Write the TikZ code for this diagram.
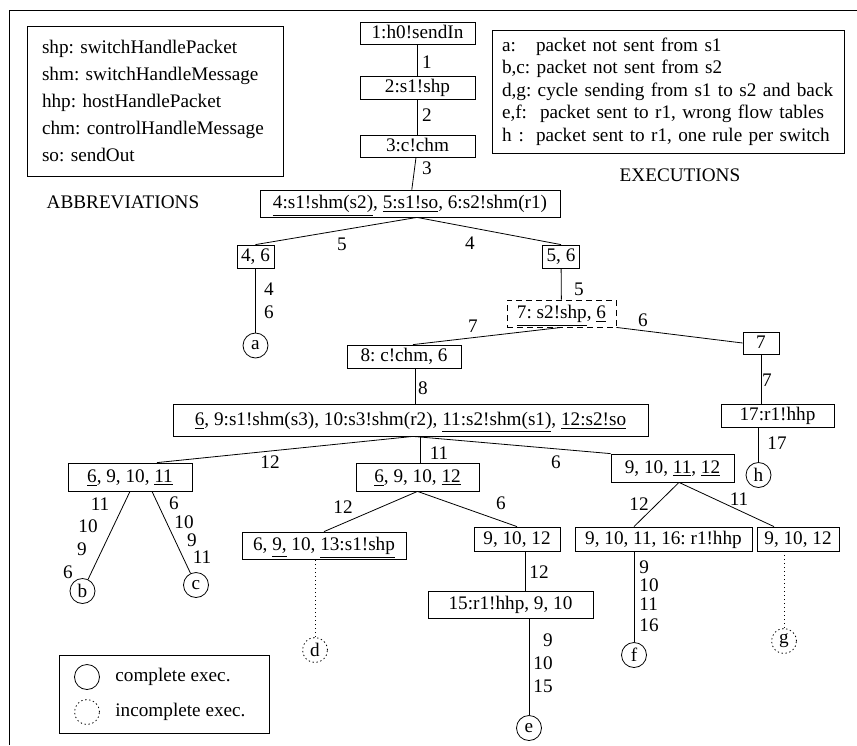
\documentclass[tikz,border=0pt]{standalone}
\usepackage{fontspec}
\setmainfont{Liberation Serif}
\usetikzlibrary{positioning}

\begin{document}
\begin{tikzpicture}[
  x=0.5pt, y=-0.5pt,
  font=\fontsize{9.6}{11.5}\selectfont\frenchspacing,
  box/.style={draw, inner xsep=2pt, inner ysep=0pt, minimum height=11.5pt,
    text height=6.5pt, text depth=1.5pt},
  dots/.style={dash pattern=on 0.7pt off 1.3pt},
  leaf/.style={draw, circle, minimum size=12.5pt, inner sep=0pt},
  open/.style={leaf, dots},
  lbl/.style={inner sep=0pt},
  note/.style={draw, align=left, inner ysep=0pt}
]
  \useasboundingbox (0,0) rectangle (857,745);
  \draw (9,745) -- (9,10) -- (857,10);

  % abbreviations and executions
  \node[note, inner xsep=7.5pt, text width=113pt, minimum height=75pt,
    font=\fontsize{9.6}{13.5}\selectfont\frenchspacing] (abbr) at (155,101)
    {shp: switchHandlePacket\\
     shm: switchHandleMessage\\
     hhp: hostHandlePacket\\
     chm: controlHandleMessage\\
     so: sendOut};
  \node (abbrt) at (123,202) {ABBREVIATIONS};
  \node[note, inner xsep=5pt, text width=166pt, minimum height=61.5pt,
    font=\fontsize{9.6}{11.25}\selectfont\frenchspacing] (exec) at (668,91.5)
    {\makebox[17pt][l]{a:}packet not sent from s1\\
     b,c: packet not sent from s2\\
     d,g: cycle sending from s1 to s2 and back\\
     \makebox[19pt][l]{e,f:}packet sent to r1, wrong flow tables\\
     \makebox[17pt][l]{h\hspace{3.5pt}:}packet sent to r1, one rule per switch};
  \node (exect) at (680,175) {EXECUTIONS};

  % legend
  \node[draw, minimum width=105pt, minimum height=39pt] (legend) at (164,694) {};
  \node[leaf] (k1) at (87,677) {};
  \node[open] (k2) at (87,712) {};
  \node[lbl, anchor=west] (k1t) at (115,677) {complete exec.};
  \node[lbl, anchor=west] (k2t) at (115,712) {incomplete exec.};

  % tree
  \node[box, minimum width=57.5pt, minimum height=11pt] (n1) at (417.5,33) {1:h0!sendIn};
  \node[box, minimum width=57.5pt] (n2) at (417.5,87.5) {2:s1!shp};
  \node[box, minimum width=57.5pt, minimum height=11pt] (n3) at (417.5,146) {3:c!chm};
  \node[box, minimum width=150pt, minimum height=13.5pt] (n4) at (410,203.5)
    {\underline{4:s1!shm(s2)}, \underline{5:s1!so}, 6:s2!shm(r1)};
  \node[box, minimum width=18.5pt] (n46) at (255.5,256.5) {4, 6};
  \node[box, minimum width=18pt] (n56) at (561,256.5) {5, 6};
  \node[box, dash pattern=on 3pt off 2pt, minimum width=54.5pt, minimum height=13.5pt]
    (n7) at (561.5,313.5) {\underline{7: s2!shp}, \underline{6}};
  \node[box, minimum width=57pt] (n8) at (404,356.5) {8: c!chm, 6};
  \node[box, minimum width=18pt, minimum height=11pt] (r7) at (761,343) {7};
  \node[box, minimum width=56.5pt] (n17) at (777.5,415.5) {17:r1!hhp};
  \node[box, minimum width=237.5pt, minimum height=16pt] (big) at (410.5,420)
    {\underline{6}, 9:s1!shm(s3), 10:s3!shm(r2), \underline{11:s2!shm(s1)}, \underline{12:s2!so}};
  \node[box, minimum width=62pt, minimum height=14pt] (l1) at (130,477)
    {\underline{6}, 9, 10, \underline{11}};
  \node[box, minimum width=61.5pt, minimum height=14pt] (m1) at (417.5,477)
    {\underline{6}, 9, 10, \underline{12}};
  \node[box, minimum width=61.5pt, minimum height=14pt] (r1) at (672.5,468)
    {9, 10, \underline{11}, \underline{12}};
  \node[box, minimum width=82pt, minimum height=13.5pt] (m2) at (324,545.5)
    {6, \underline{9,} 10, \underline{13:s1!shp}};
  \node[box, minimum width=43pt, minimum height=12pt] (m3) at (517,539) {9, 10, 12};
  \node[box, minimum width=82.5pt, minimum height=13.5pt] (m4) at (510.5,604.5)
    {15:r1!hhp, 9, 10};
  \node[box, minimum width=88.5pt, minimum height=12pt] (r2) at (663.5,539)
    {9, 10, 11, 16: r1!hhp};
  \node[box, minimum width=41pt, minimum height=12pt] (r3) at (798,539) {9, 10, 12};

  % executions
  \node[leaf] (a) at (255.5,345.5) {a};
  \node[leaf] (b) at (82.5,591) {b};
  \node[leaf] (c) at (196,585) {c};
  \node[open] (d) at (315,650) {d};
  \node[leaf] (e) at (529,728) {e};
  \node[leaf] (f) at (634,655) {f};
  \node[open] (g) at (784,641) {g};
  \node[leaf] (h) at (758.5,475) {h};

  \draw (n1) -- (n2);
  \draw (n2) -- (n3);
  \draw (n3) -- (n4);
  \draw ([xshift=3.5pt]n4.south) -- (n46.north);
  \draw ([xshift=3.5pt]n4.south) -- (n56.north);
  \draw (n46) -- (a);
  \draw (n56) -- (n7);
  \draw (n7.south) -- ([xshift=4.5pt]n8.north);
  \draw (n7.south east) -- (r7.west);
  \draw (r7) -- (r7 |- n17.north);
  \draw (h) -- (h |- n17.south);
  \draw ([xshift=5.5pt]n8.south) -- ([xshift=5.5pt]n8.south |- big.north);
  \draw ([xshift=1.25pt]big.south) -- ([xshift=13.5pt]l1.north);
  \draw ([xshift=1.25pt]m1.north |- big.south) -- ([xshift=1.25pt]m1.north);
  \draw ([xshift=1.25pt]big.south) -- (r1.north west);
  \draw (l1.south) -- (b);
  \draw ([xshift=11pt]l1.south) -- (c);
  \draw (m1.south) -- (m2.north);
  \draw (m1.south) -- (m3.north);
  \draw[dots] (d) -- (d |- m2.south);
  \draw ([xshift=4pt]m3.south) -- ([xshift=4pt]m3.south |- m4.north);
  \draw (e) -- (e |- m4.south);
  \draw ([xshift=3.25pt]r1.south) -- ([xshift=-14.75pt]r2.north);
  \draw ([xshift=3.25pt]r1.south) -- ([xshift=-12pt]r3.north);
  \draw (f) -- (f |- r2.south);
  \draw[dots] (g) -- (g |- r3.south);

  % edge labels
  \node[lbl] (t1) at (427,62) {1};
  \node[lbl] (t2) at (427,115) {2};
  \node[lbl] (t3) at (427,168) {3};
  \node[lbl] (t4) at (342,244) {5};
  \node[lbl] (t5) at (470,243) {4};
  \node[lbl] (t6) at (269,289) {4};
  \node[lbl] (t7) at (269,312) {6};
  \node[lbl] (t8) at (579,289) {5};
  \node[lbl] (t9) at (473,326) {7};
  \node[lbl] (t10) at (643,320) {6};
  \node[lbl] (t11) at (767,380) {7};
  \node[lbl] (t12) at (777,443) {17};
  \node[lbl] (t13) at (423,388) {8};
  \node[lbl] (t14) at (270,462) {12};
  \node[lbl] (t15) at (439,453) {11};
  \node[lbl] (t16) at (556,462) {6};
  \node[lbl] (t17) at (100,504) {11};
  \node[lbl] (t18) at (88,526) {10};
  \node[lbl] (t19) at (82,549) {9};
  \node[lbl] (t20) at (68,572) {6};
  \node[lbl] (t21) at (174,503) {6};
  \node[lbl] (t22) at (184,522) {10};
  \node[lbl] (t23) at (192,540) {9};
  \node[lbl] (t24) at (202,557) {11};
  \node[lbl] (t25) at (343,507) {12};
  \node[lbl] (t26) at (501,503) {6};
  \node[lbl] (t27) at (539,572) {12};
  \node[lbl, anchor=east] (t28) at (553,640) {9};
  \node[lbl, anchor=east] (t29) at (553,663) {10};
  \node[lbl, anchor=east] (t30) at (553,686) {15};
  \node[lbl] (t31) at (639,504) {12};
  \node[lbl] (t32) at (739,499) {11};
  \node[lbl, anchor=west] (t33) at (639,567) {9};
  \node[lbl, anchor=west] (t34) at (639,585) {10};
  \node[lbl, anchor=west] (t35) at (639,604) {11};
  \node[lbl, anchor=west] (t36) at (639,625) {16};
\end{tikzpicture}
\end{document}
